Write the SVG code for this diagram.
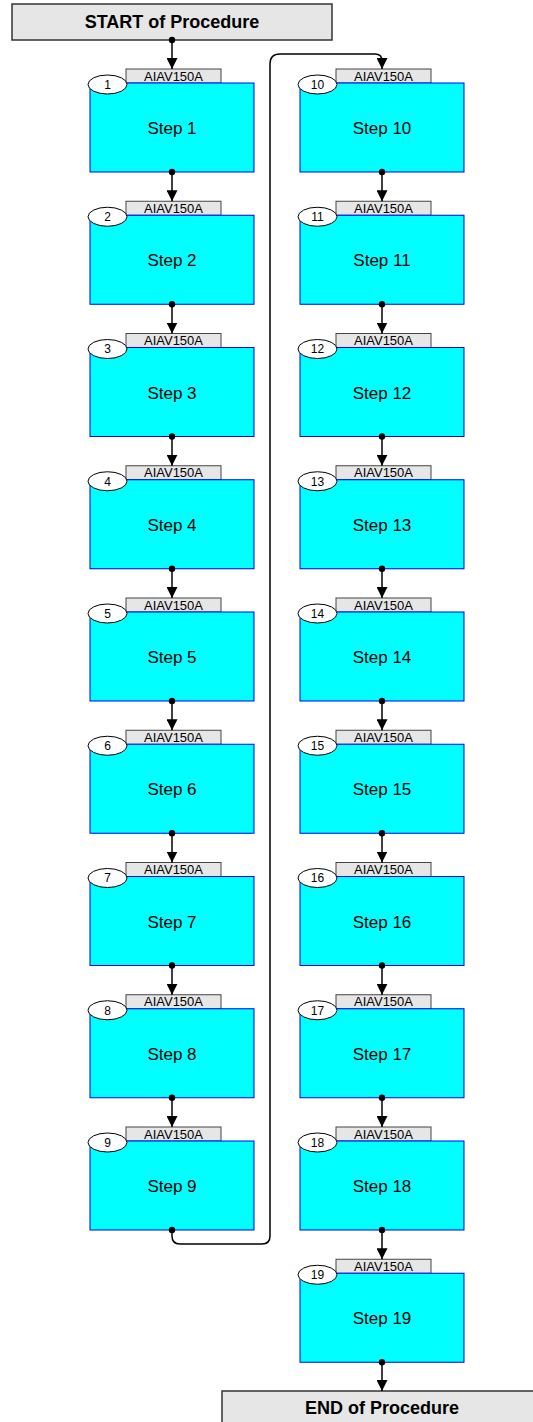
<svg xmlns="http://www.w3.org/2000/svg" width="533" height="1422" viewBox="0 0 533 1422">
<style>
.term{fill:#E6E6E6;stroke:#333;stroke-width:1.5}
.termt{font-family:"Liberation Sans",Arial,sans-serif;font-size:18px;font-weight:bold;fill:#000;text-anchor:middle}
.box{fill:#00FFFF;stroke:#0000FF;stroke-width:1}
.tab{fill:#E6E6E6;stroke:#444;stroke-width:1}
.tabt{font-family:"Liberation Sans",Arial,sans-serif;font-size:13px;fill:#000;text-anchor:middle}
.num{fill:#fff;stroke:#000;stroke-width:1}
.numt{font-family:"Liberation Sans",Arial,sans-serif;font-size:12px;fill:#000;text-anchor:middle}
.lbl{font-family:"Liberation Sans",Arial,sans-serif;font-size:17px;fill:#000;text-anchor:middle}
.c{fill:none;stroke:#000;stroke-width:1.5;marker-end:url(#ah)}
.dot{fill:#000}
</style>
<defs>
<marker id="ah" markerUnits="userSpaceOnUse" markerWidth="11" markerHeight="11" viewBox="0 0 10 10" refX="10" refY="5" orient="auto">
<path d="M0,0 L10,5 L0,10 z" fill="#000"/>
</marker>
<g id="stepShape">
<rect class="tab" x="-46" y="-14" width="95" height="14"/>
<text class="tabt" x="1.5" y="-2.5">AIAV150A</text>
<rect class="box" x="-82" y="0" width="164" height="89"/>
</g>
</defs>
<g id="start"><rect class="term" x="12" y="4" width="320" height="36"/><text class="termt" x="172" y="27.5">START of Procedure</text></g>
<g id="n1" transform="translate(172,83)"><use href="#stepShape"/><ellipse class="num" cx="-64.5" cy="1.5" rx="19.5" ry="9.5"/><text class="numt" x="-64.5" y="5.8">1</text><text class="lbl" x="0" y="51">Step 1</text></g>
<g id="n2" transform="translate(172,215.25)"><use href="#stepShape"/><ellipse class="num" cx="-64.5" cy="1.5" rx="19.5" ry="9.5"/><text class="numt" x="-64.5" y="5.8">2</text><text class="lbl" x="0" y="51">Step 2</text></g>
<g id="n3" transform="translate(172,347.5)"><use href="#stepShape"/><ellipse class="num" cx="-64.5" cy="1.5" rx="19.5" ry="9.5"/><text class="numt" x="-64.5" y="5.8">3</text><text class="lbl" x="0" y="51">Step 3</text></g>
<g id="n4" transform="translate(172,479.75)"><use href="#stepShape"/><ellipse class="num" cx="-64.5" cy="1.5" rx="19.5" ry="9.5"/><text class="numt" x="-64.5" y="5.8">4</text><text class="lbl" x="0" y="51">Step 4</text></g>
<g id="n5" transform="translate(172,612)"><use href="#stepShape"/><ellipse class="num" cx="-64.5" cy="1.5" rx="19.5" ry="9.5"/><text class="numt" x="-64.5" y="5.8">5</text><text class="lbl" x="0" y="51">Step 5</text></g>
<g id="n6" transform="translate(172,744.25)"><use href="#stepShape"/><ellipse class="num" cx="-64.5" cy="1.5" rx="19.5" ry="9.5"/><text class="numt" x="-64.5" y="5.8">6</text><text class="lbl" x="0" y="51">Step 6</text></g>
<g id="n7" transform="translate(172,876.5)"><use href="#stepShape"/><ellipse class="num" cx="-64.5" cy="1.5" rx="19.5" ry="9.5"/><text class="numt" x="-64.5" y="5.8">7</text><text class="lbl" x="0" y="51">Step 7</text></g>
<g id="n8" transform="translate(172,1008.75)"><use href="#stepShape"/><ellipse class="num" cx="-64.5" cy="1.5" rx="19.5" ry="9.5"/><text class="numt" x="-64.5" y="5.8">8</text><text class="lbl" x="0" y="51">Step 8</text></g>
<g id="n9" transform="translate(172,1141)"><use href="#stepShape"/><ellipse class="num" cx="-64.5" cy="1.5" rx="19.5" ry="9.5"/><text class="numt" x="-64.5" y="5.8">9</text><text class="lbl" x="0" y="51">Step 9</text></g>
<g id="n10" transform="translate(382,83)"><use href="#stepShape"/><ellipse class="num" cx="-64.5" cy="1.5" rx="19.5" ry="9.5"/><text class="numt" x="-64.5" y="5.8">10</text><text class="lbl" x="0" y="51">Step 10</text></g>
<g id="n11" transform="translate(382,215.25)"><use href="#stepShape"/><ellipse class="num" cx="-64.5" cy="1.5" rx="19.5" ry="9.5"/><text class="numt" x="-64.5" y="5.8">11</text><text class="lbl" x="0" y="51">Step 11</text></g>
<g id="n12" transform="translate(382,347.5)"><use href="#stepShape"/><ellipse class="num" cx="-64.5" cy="1.5" rx="19.5" ry="9.5"/><text class="numt" x="-64.5" y="5.8">12</text><text class="lbl" x="0" y="51">Step 12</text></g>
<g id="n13" transform="translate(382,479.75)"><use href="#stepShape"/><ellipse class="num" cx="-64.5" cy="1.5" rx="19.5" ry="9.5"/><text class="numt" x="-64.5" y="5.8">13</text><text class="lbl" x="0" y="51">Step 13</text></g>
<g id="n14" transform="translate(382,612)"><use href="#stepShape"/><ellipse class="num" cx="-64.5" cy="1.5" rx="19.5" ry="9.5"/><text class="numt" x="-64.5" y="5.8">14</text><text class="lbl" x="0" y="51">Step 14</text></g>
<g id="n15" transform="translate(382,744.25)"><use href="#stepShape"/><ellipse class="num" cx="-64.5" cy="1.5" rx="19.5" ry="9.5"/><text class="numt" x="-64.5" y="5.8">15</text><text class="lbl" x="0" y="51">Step 15</text></g>
<g id="n16" transform="translate(382,876.5)"><use href="#stepShape"/><ellipse class="num" cx="-64.5" cy="1.5" rx="19.5" ry="9.5"/><text class="numt" x="-64.5" y="5.8">16</text><text class="lbl" x="0" y="51">Step 16</text></g>
<g id="n17" transform="translate(382,1008.75)"><use href="#stepShape"/><ellipse class="num" cx="-64.5" cy="1.5" rx="19.5" ry="9.5"/><text class="numt" x="-64.5" y="5.8">17</text><text class="lbl" x="0" y="51">Step 17</text></g>
<g id="n18" transform="translate(382,1141)"><use href="#stepShape"/><ellipse class="num" cx="-64.5" cy="1.5" rx="19.5" ry="9.5"/><text class="numt" x="-64.5" y="5.8">18</text><text class="lbl" x="0" y="51">Step 18</text></g>
<g id="n19" transform="translate(382,1273.25)"><use href="#stepShape"/><ellipse class="num" cx="-64.5" cy="1.5" rx="19.5" ry="9.5"/><text class="numt" x="-64.5" y="5.8">19</text><text class="lbl" x="0" y="51">Step 19</text></g>
<g id="end"><rect class="term" x="222" y="1391" width="320" height="36"/><text class="termt" x="382" y="1414">END of Procedure</text></g>
<g id="connectors">
<path class="c" d="M172,40 V69"/>
<path class="c" d="M172,172 V201.25"/>
<path class="c" d="M172,304.25 V333.5"/>
<path class="c" d="M172,436.5 V465.75"/>
<path class="c" d="M172,568.75 V598"/>
<path class="c" d="M172,701 V730.25"/>
<path class="c" d="M172,833.25 V862.5"/>
<path class="c" d="M172,965.5 V994.75"/>
<path class="c" d="M172,1097.75 V1127"/>
<path class="c" d="M172,1230 V1236 Q172,1244 180,1244 H262 Q270,1244 270,1236 V64 Q270,54 280,54 H375 Q382,54 382,61 V69"/>
<path class="c" d="M382,172 V201.25"/>
<path class="c" d="M382,304.25 V333.5"/>
<path class="c" d="M382,436.5 V465.75"/>
<path class="c" d="M382,568.75 V598"/>
<path class="c" d="M382,701 V730.25"/>
<path class="c" d="M382,833.25 V862.5"/>
<path class="c" d="M382,965.5 V994.75"/>
<path class="c" d="M382,1097.75 V1127"/>
<path class="c" d="M382,1230 V1259.25"/>
<path class="c" d="M382,1362.25 V1391"/>
<circle class="dot" cx="172" cy="40" r="3.2"/>
<circle class="dot" cx="172" cy="172" r="3.2"/>
<circle class="dot" cx="172" cy="304.25" r="3.2"/>
<circle class="dot" cx="172" cy="436.5" r="3.2"/>
<circle class="dot" cx="172" cy="568.75" r="3.2"/>
<circle class="dot" cx="172" cy="701" r="3.2"/>
<circle class="dot" cx="172" cy="833.25" r="3.2"/>
<circle class="dot" cx="172" cy="965.5" r="3.2"/>
<circle class="dot" cx="172" cy="1097.75" r="3.2"/>
<circle class="dot" cx="172" cy="1230" r="3.2"/>
<circle class="dot" cx="382" cy="172" r="3.2"/>
<circle class="dot" cx="382" cy="304.25" r="3.2"/>
<circle class="dot" cx="382" cy="436.5" r="3.2"/>
<circle class="dot" cx="382" cy="568.75" r="3.2"/>
<circle class="dot" cx="382" cy="701" r="3.2"/>
<circle class="dot" cx="382" cy="833.25" r="3.2"/>
<circle class="dot" cx="382" cy="965.5" r="3.2"/>
<circle class="dot" cx="382" cy="1097.75" r="3.2"/>
<circle class="dot" cx="382" cy="1230" r="3.2"/>
<circle class="dot" cx="382" cy="1362.25" r="3.2"/>
</g>
</svg>
